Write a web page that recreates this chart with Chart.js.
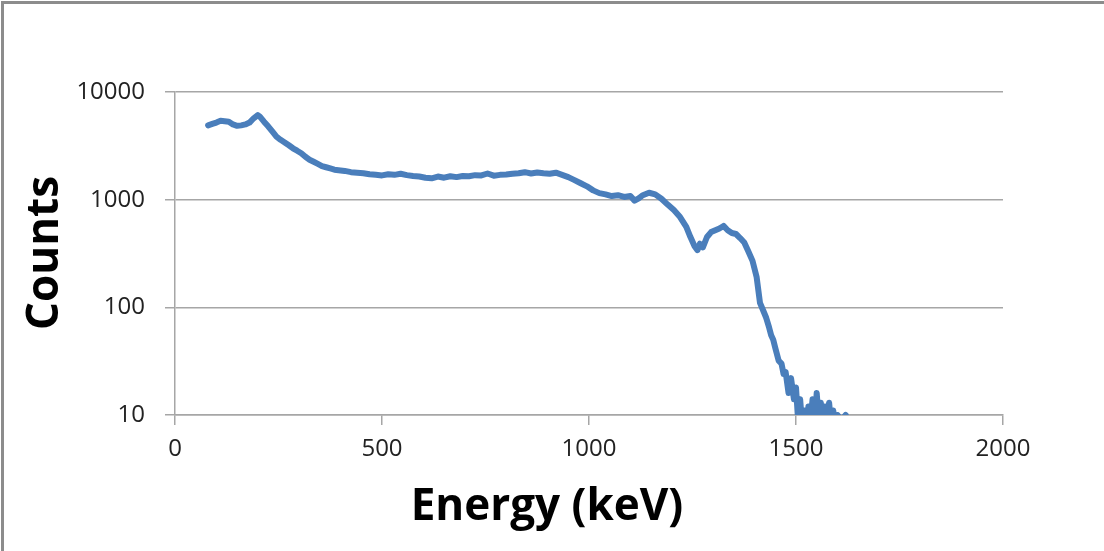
<!DOCTYPE html>
<html>
<head>
<meta charset="utf-8">
<script src="https://cdn.jsdelivr.net/npm/chart.js@4.4.0/dist/chart.umd.min.js"></script>
<style>
  body { margin: 0; background: #fff; }
  #wrap { width: 1104px; height: 551px; }
</style>
</head>
<body>
<div id="wrap"><canvas id="spectrum" width="1104" height="551"></canvas></div>
<script>
// energy (keV) and counts
const energy = [
  80, 90, 100, 110, 120, 130, 140, 150, 160, 170, 180, 190, 200, 205, 215, 225, 235, 245, 255, 265,
  275, 285, 295, 305, 315, 325, 335, 345, 355, 365, 375, 385, 395, 410, 425, 440, 455, 470, 485, 500,
  515, 530, 545, 560, 575, 590, 605, 620, 635, 650, 665, 680, 695, 710, 725, 740, 755, 770, 785, 800,
  815, 830, 845, 860, 875, 890, 905, 920, 935, 950, 965, 980, 995, 1010, 1025, 1040, 1055, 1070, 1085, 1100,
  1110, 1120, 1130, 1145, 1160, 1175, 1190, 1205, 1220, 1235, 1245, 1255, 1262, 1268, 1275, 1285, 1295, 1305, 1315, 1325,
  1335, 1345, 1355, 1365, 1375, 1385, 1395, 1405, 1413, 1420, 1428, 1435, 1440, 1445, 1450, 1458, 1465, 1470, 1475, 1482,
  1488, 1495, 1500, 1505, 1510, 1515, 1520, 1525, 1530, 1535, 1540, 1545, 1550, 1555, 1560, 1565, 1570, 1575, 1580, 1585,
  1590, 1595, 1600, 1610, 1620
];
const counts = [
  4900, 5050, 5200, 5400, 5350, 5300, 5000, 4850, 4900, 5000, 5200, 5700, 6100, 5900, 5300, 4800, 4300, 3850, 3600, 3400,
  3200, 3000, 2850, 2700, 2500, 2350, 2250, 2150, 2050, 2000, 1950, 1900, 1880, 1850, 1800, 1780, 1760, 1720, 1700, 1680,
  1720, 1700, 1740, 1690, 1660, 1640, 1600, 1580, 1640, 1600, 1650, 1620, 1660, 1650, 1690, 1680, 1750, 1670, 1700, 1710,
  1740, 1760, 1800, 1750, 1790, 1760, 1740, 1780, 1700, 1620, 1520, 1420, 1330, 1220, 1150, 1120, 1080, 1100, 1060, 1080,
  980, 1030, 1100, 1160, 1120, 1020, 900, 800, 690, 560, 450, 370, 340, 390, 360, 450, 500, 520, 540, 570,
  520, 490, 480, 440, 400, 330, 270, 190, 110, 95, 80, 65, 55, 50, 42, 32, 30, 24, 25, 16,
  22, 14, 18, 9, 14, 8, 11, 7, 12, 9, 14, 8, 16, 9, 13, 8, 12, 9, 13, 8,
  11, 8, 10, 9, 10
];
const xTicks = [0, 500, 1000, 1500, 2000];
const yTicks = [10, 100, 1000, 10000];
const xTitle = 'Energy (keV)';
const yTitle = 'Counts';

const gridColor = '#a6a6a6';
const lineColor = '#4a7ebb';

const points = energy.map((e, i) => ({ x: e, y: counts[i] }));

// white page, grey frame on left and top, axis titles
const framePlugin = {
  id: 'frame',
  beforeDraw(chart) {
    const ctx = chart.ctx;
    ctx.save();
    ctx.fillStyle = '#fff';
    ctx.fillRect(0, 0, chart.width, chart.height);
    ctx.strokeStyle = '#8c8c8c';
    ctx.lineWidth = 3;
    ctx.beginPath();
    ctx.moveTo(2.5, chart.height);
    ctx.lineTo(2.5, 2.5);
    ctx.lineTo(chart.width, 2.5);
    ctx.stroke();
    ctx.restore();
  },
  afterDraw(chart) {
    const ctx = chart.ctx;
    ctx.save();
    ctx.fillStyle = '#000';
    ctx.textAlign = 'center';
    ctx.textBaseline = 'middle';
    ctx.font = 'bold 44px "Open Sans"';
    ctx.fillText(xTitle, 547, 507);
    ctx.translate(45, 253);
    ctx.rotate(-Math.PI / 2);
    ctx.fillText(yTitle, 0, 0);
    ctx.restore();
  }
};

new Chart(document.getElementById('spectrum'), {
  type: 'line',
  data: {
    datasets: [{
      label: 'Counts',
      data: points,
      borderColor: lineColor,
      borderWidth: 6,
      borderJoinStyle: 'round',
      borderCapStyle: 'round',
      pointRadius: 0,
      tension: 0,
      fill: false
    }]
  },
  options: {
    responsive: false,
    animation: false,
    layout: { padding: { top: 92, right: 101, left: 0, bottom: 0 } },
    plugins: {
      legend: { display: false },
      tooltip: { enabled: false }
    },
    scales: {
      x: {
        type: 'linear',
        min: 0,
        max: 2000,
        afterBuildTicks: (scale) => { scale.ticks = xTicks.map(v => ({ value: v })); },
        afterFit: (scale) => { scale.height = 136; },
        grid: { drawOnChartArea: false, drawTicks: true, tickLength: 10, color: gridColor, lineWidth: 1.5 },
        border: { color: gridColor, width: 1.5 },
        ticks: {
          color: '#222',
          padding: 10,
          font: { family: 'Open Sans', size: 24 },
          maxRotation: 0,
          callback: (v) => String(v)
        }
      },
      y: {
        type: 'logarithmic',
        min: 10,
        max: 10000,
        afterBuildTicks: (scale) => { scale.ticks = yTicks.map(v => ({ value: v })); },
        afterFit: (scale) => { scale.width = 175; },
        grid: { color: gridColor, lineWidth: 1.5, tickLength: 10 },
        border: { color: gridColor, width: 1.5 },
        ticks: {
          color: '#222',
          padding: 20,
          font: { family: 'Open Sans', size: 24 },
          callback: (v) => String(v)
        }
      }
    }
  },
  plugins: [framePlugin]
});
</script>
</body>
</html>
